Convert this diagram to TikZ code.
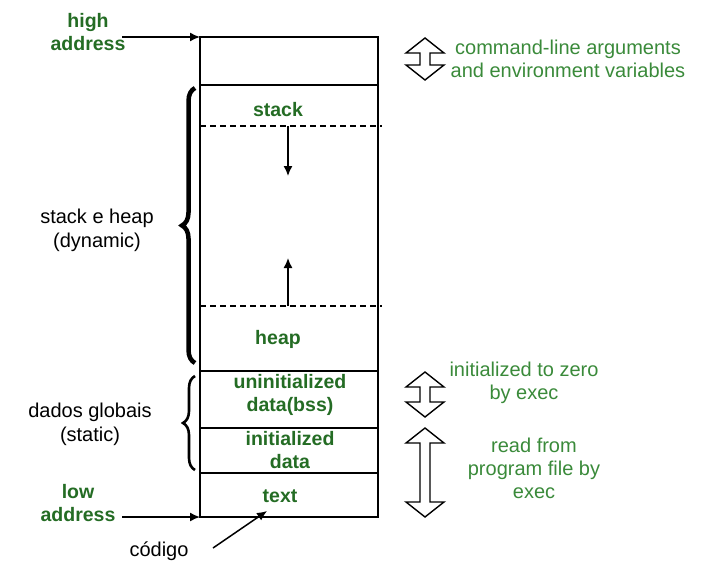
\documentclass[tikz,border=0pt]{standalone}
\usepackage{fontspec}
\setmainfont{Liberation Sans}
\usepackage{tikz}
\usetikzlibrary{arrows,arrows.meta,calc,decorations.pathreplacing,positioning}

\definecolor{labelgreen}{RGB}{36,108,36}
\definecolor{notegreen}{RGB}{58,138,58}

\tikzset{
  seg/.style={font=\fontsize{19.5}{23}\selectfont\bfseries, text=labelgreen, align=center},
  note/.style={font=\fontsize{20}{23}\selectfont, text=notegreen, align=center},
  side/.style={font=\fontsize{20}{24}\selectfont, align=center},
  pointer/.style={line width=1.5, -{Latex[length=10,width=9]}},
  pics/hollow/.style={code={
    \draw[line width=1.4, line join=miter] (0,-#1) -- (19,-#1+15) -- (5,-#1+15) -- (5,#1-15)
      -- (19,#1-15) -- (0,#1) -- (-19,#1-15) -- (-5,#1-15) -- (-5,-#1+15) -- (-19,-#1+15) -- cycle;
  }}
}

\begin{document}
\begin{tikzpicture}[x=1pt,y=-1pt]
\useasboundingbox (0,0) rectangle (703,575);
% memory block
\coordinate (topL) at (200,37);
\coordinate (botL) at (200,517);
\draw[line width=1.5] (topL) rectangle (378,517);
\foreach \y in {85,371,428,473}
  \draw[line width=1.5] (200,\y) -- (378,\y);
\draw[line width=1.3, dash pattern=on 6 off 4] (200,126) coordinate(stackEnd) -- (382,126);
\draw[line width=1.3, dash pattern=on 6 off 4] (200,306) coordinate(heapEnd) -- (382,306);
\coordinate (downS) at (288,126);
\coordinate (downE) at (288,176);
\coordinate (upS) at (288,306);
\coordinate (upE) at (288,258);
\draw[pointer] (downS) -- (downE);
\draw[pointer] (upS) -- (upE);
% segment names
\node[seg] (stack) at (278,110) {stack};
\node[seg] (heap) at (278,339) {heap};
\node[seg] (bss) at (290,395) {uninitialized\\data(bss)};
\node[seg] (data) at (290,450) {initialized\\data};
\node[seg] (text) at (280,496) {text};
% addresses
\node[seg] (high) at (88,32) {high\\address};
\node[seg] (low) at (78,503) {low\\address};
\coordinate (highS) at (122,37);
\coordinate (lowS) at (122,517);
\draw[pointer] (highS) -- (topL);
\draw[pointer] (lowS) -- (botL);
\node[side] (codigo) at (159,551) {código};
\coordinate (codS) at (213,548);
\coordinate (codE) at (267,511);
\draw[pointer] (codS) -- (codE);
% braces
\draw[line width=4.5, decorate, decoration={brace, amplitude=13}] (195,363) -- (195,88);
\draw[line width=2.6, decorate, decoration={brace, amplitude=12}] (195,470) -- (195,376);
\node[side] (dyn) at (97,230) {stack e heap\\(dynamic)};
\node[side] (stat) at (90,424) {dados globais\\(static)};
% right side
\pic at (425,59) {hollow=21};
\pic at (425,394.5) {hollow=22.5};
\pic at (425,472.5) {hollow=44.5};
\node[note] (args) at (568,59) {command-line arguments\\and environment variables};
\node[note] (zero) at (524,383) {initialized to zero\\by exec};
\node[note] (read) at (534,468) {read from\\program file by\\exec};
\end{tikzpicture}
\end{document}
